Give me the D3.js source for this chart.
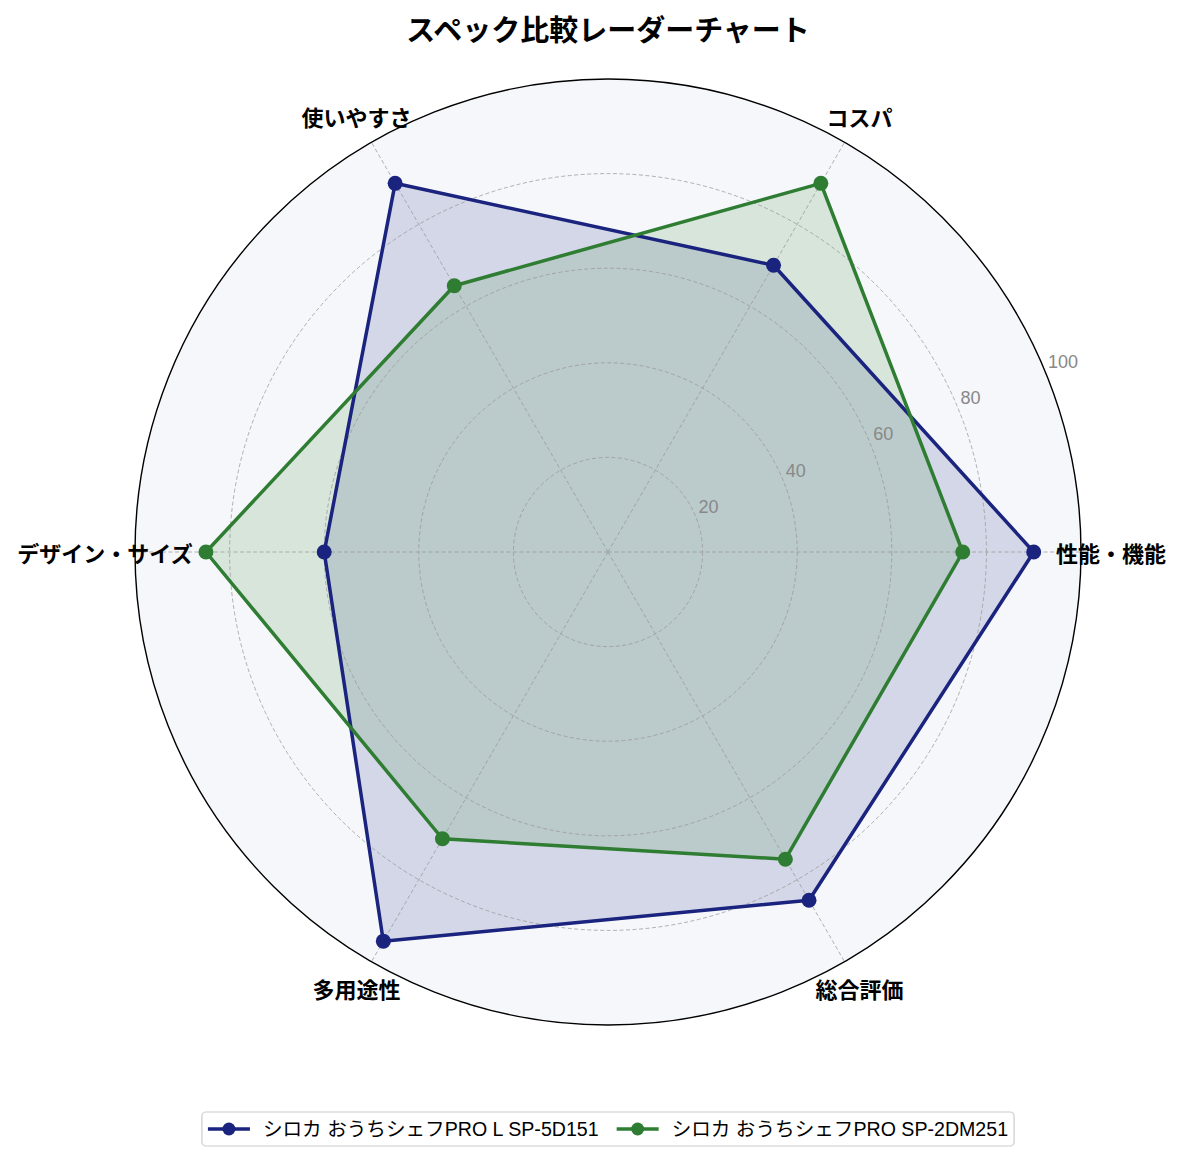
<!DOCTYPE html>
<html>
<head>
<meta charset="utf-8">
<script src="https://cdn.jsdelivr.net/npm/d3@7"></script>
<style>
  body { margin: 0; background: #fff; }
  text { font-family: "Noto Sans CJK JP", "Noto Sans", sans-serif; }
  text.latin { font-family: "Liberation Sans", "Noto Sans CJK JP", sans-serif; }
</style>
</head>
<body>
<div id="chart"></div>
<script>
// data
let categories = ['性能・機能', 'コスパ', '使いやすさ', 'デザイン・サイズ', '多用途性', '総合評価']
let seriesNames = ['シロカ おうちシェフPRO L SP-5D151', 'シロカ おうちシェフPRO SP-2DM251']
let seriesA = [90, 70, 90, 60, 95, 85]
let seriesB = [75, 90, 65, 85, 70, 75]
let radialTicks = [20, 40, 60, 80, 100]
let colors = ['#1a237e', '#2e7d32']

let width = 1185
let height = 1161
let cx = 608, cy = 552, R = 473

let svg = d3.select('div#chart')
  .append('svg')
    .attr('width', width)
    .attr('height', height)

let r = d3.scaleLinear().domain([0, 100]).range([0, R])
let step = 2 * Math.PI / categories.length
// matplotlib style angle: counter-clockwise from 3 o'clock
let px = (i, v) => cx + r(v) * Math.cos(i * step)
let py = (i, v) => cy - r(v) * Math.sin(i * step)

let g = svg.append('g')

// polar background
g.append('circle')
  .attr('cx', cx).attr('cy', cy).attr('r', R)
  .attr('fill', '#f5f7fa')

// fills
let area = d3.lineRadial()
  .angle((d, i) => Math.PI / 2 - i * step)
  .radius(d => r(d))
  .curve(d3.curveLinearClosed)

let allSeries = [seriesA, seriesB]
allSeries.forEach((s, k) => {
  g.append('path')
    .attr('transform', `translate(${cx},${cy})`)
    .attr('d', area(s))
    .attr('fill', colors[k])
    .attr('fill-opacity', 0.15)
    .attr('stroke', 'none')
})

// grid
let grid = g.append('g')
  .attr('fill', 'none')
  .attr('stroke', '#999')
  .attr('stroke-width', 0.9)
  .attr('stroke-dasharray', '4,2.5')

grid.selectAll('circle')
  .data(radialTicks.slice(0, -1))
  .enter().append('circle')
  .attr('cx', cx).attr('cy', cy)
  .attr('r', d => r(d))
  .attr('stroke-opacity', 0.85)

grid.selectAll('line')
  .data(categories)
  .enter().append('line')
  .attr('x1', cx).attr('y1', cy)
  .attr('x2', (d, i) => px(i, 100))
  .attr('y2', (d, i) => py(i, 100))
  .attr('stroke-opacity', 0.85)

// radial tick labels at 22.5 deg
let labAng = 22.5 * Math.PI / 180
g.selectAll('text.rtick')
  .data(radialTicks)
  .enter().append('text')
  .attr('class', 'rtick latin')
  .attr('x', d => cx + r(d) * Math.cos(labAng) + 3)
  .attr('y', d => cy - r(d) * Math.sin(labAng) - 3)
  .attr('font-size', 18)
  .attr('fill', '#888')
  .text(d => d)

// lines + markers
allSeries.forEach((s, k) => {
  g.append('path')
    .attr('transform', `translate(${cx},${cy})`)
    .attr('d', area(s))
    .attr('fill', 'none')
    .attr('stroke', colors[k])
    .attr('stroke-width', 3.5)
    .attr('stroke-linejoin', 'round')

  g.selectAll('circle.m' + k)
    .data(s)
    .enter().append('circle')
    .attr('class', 'm' + k)
    .attr('cx', (d, i) => px(i, d))
    .attr('cy', (d, i) => py(i, d))
    .attr('r', 7.5)
    .attr('fill', colors[k])
})

// outer spine
g.append('circle')
  .attr('cx', cx).attr('cy', cy).attr('r', R)
  .attr('fill', 'none')
  .attr('stroke', '#000')
  .attr('stroke-width', 1.4)

// category labels
g.selectAll('text.cat')
  .data(categories)
  .enter().append('text')
  .attr('class', 'cat')
  .attr('x', (d, i) => cx + (R + 30) * Math.cos(i * step))
  .attr('y', (d, i) => cy - (R + 30) * Math.sin(i * step))
  .attr('text-anchor', 'middle')
  .attr('dominant-baseline', 'central')
  .attr('font-size', 22)
  .attr('font-weight', 'bold')
  .attr('fill', '#000')
  .text(d => d)

// title
svg.append('text')
  .attr('x', cx)
  .attr('y', 28)
  .attr('text-anchor', 'middle')
  .attr('dominant-baseline', 'central')
  .attr('font-size', 29)
  .attr('font-weight', 'bold')
  .text('スペック比較レーダーチャート')

// legend
let legend = svg.append('g')
let ly = 1129
let items = legend.selectAll('g.item')
  .data(seriesNames)
  .enter().append('g')
  .attr('class', 'item')

items.append('line')
  .attr('x1', 0).attr('x2', 42)
  .attr('y1', ly).attr('y2', ly)
  .attr('stroke', (d, i) => colors[i])
  .attr('stroke-width', 3.5)
items.append('circle')
  .attr('cx', 21).attr('cy', ly).attr('r', 6.5)
  .attr('fill', (d, i) => colors[i])
items.append('text')
  .attr('class', 'latin')
  .attr('x', 55)
  .attr('y', ly)
  .attr('dominant-baseline', 'central')
  .attr('font-size', 19.6)
  .attr('fill', '#000')
  .text(d => d)

let widths = []
items.each(function () {
  widths.push(55 + d3.select(this).select('text').node().getComputedTextLength())
})
let gap = 18
let total = d3.sum(widths) + gap * (widths.length - 1)
let x0 = cx - total / 2
let offs = []
widths.forEach((w, i) => { offs.push(x0); x0 += w + gap })
items.attr('transform', (d, i) => `translate(${offs[i]},0)`)

legend.insert('rect', ':first-child')
  .attr('x', offs[0] - 6)
  .attr('y', ly - 17)
  .attr('width', total + 12)
  .attr('height', 34)
  .attr('rx', 4)
  .attr('fill', '#fff')
  .attr('fill-opacity', 0.8)
  .attr('stroke', '#ccc')
  .attr('stroke-width', 1.2)
</script>
</body>
</html>
